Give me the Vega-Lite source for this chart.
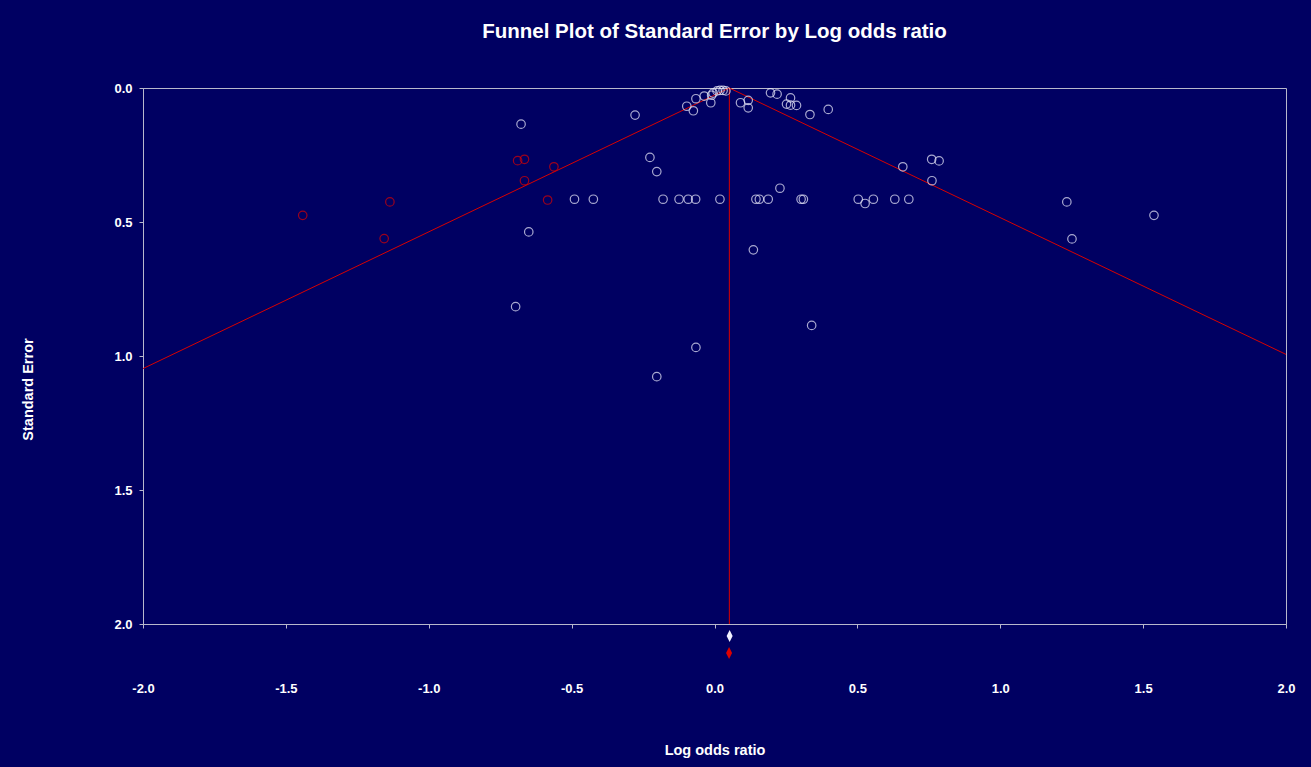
{
  "$schema": "https://vega.github.io/schema/vega-lite/v6.json",
  "autosize": "none",
  "width": 1143,
  "height": 536,
  "padding": {"left": 143, "top": 88, "right": 25, "bottom": 143},
  "background": "#000062",
  "view": {"stroke": "#b8b8cc", "strokeWidth": 1},
  "title": {
    "text": "Funnel Plot of Standard Error by Log odds ratio",
    "color": "#ffffff",
    "font": "Liberation Sans",
    "fontSize": 20.5,
    "fontWeight": "bold",
    "anchor": "middle",
    "offset": 40
  },
  "config": {
    "axis": {
      "grid": false,
      "domainColor": "#b8b8cc",
      "tickColor": "#b8b8cc",
      "tickSize": 4,
      "labelColor": "#ffffff",
      "labelFont": "Liberation Sans",
      "labelFontSize": 13,
      "labelFontWeight": "bold",
      "titleColor": "#ffffff",
      "titleFont": "Liberation Sans",
      "titleFontSize": 14.5,
      "titleFontWeight": "bold"
    }
  },
  "datasets": {
    "funnel": [
      {"line": "left", "ord": 0, "x": 0.052, "se": 0},
      {"line": "left", "ord": 1, "x": -2.0, "se": 1.047},
      {"line": "right", "ord": 0, "x": 0.052, "se": 0},
      {"line": "right", "ord": 1, "x": 2.0, "se": 0.994},
      {"line": "mid", "ord": 0, "x": 0.052, "se": 0},
      {"line": "mid", "ord": 1, "x": 0.052, "se": 2.0}
    ],
    "studies": [
      {"type": "observed", "x": -0.677, "se": 0.135},
      {"type": "observed", "x": -0.278, "se": 0.101},
      {"type": "observed", "x": -0.097, "se": 0.068},
      {"type": "observed", "x": -0.074, "se": 0.085},
      {"type": "observed", "x": -0.065, "se": 0.040},
      {"type": "observed", "x": -0.036, "se": 0.030},
      {"type": "observed", "x": -0.013, "se": 0.055},
      {"type": "observed", "x": -0.010, "se": 0.027},
      {"type": "observed", "x": -0.005, "se": 0.019},
      {"type": "observed", "x": 0.009, "se": 0.011},
      {"type": "observed", "x": 0.019, "se": 0.009},
      {"type": "observed", "x": 0.030, "se": 0.009},
      {"type": "observed", "x": 0.040, "se": 0.011},
      {"type": "observed", "x": 0.091, "se": 0.055},
      {"type": "observed", "x": 0.118, "se": 0.046},
      {"type": "observed", "x": 0.118, "se": 0.074},
      {"type": "observed", "x": 0.196, "se": 0.018},
      {"type": "observed", "x": 0.219, "se": 0.023},
      {"type": "observed", "x": 0.266, "se": 0.037},
      {"type": "observed", "x": 0.252, "se": 0.060},
      {"type": "observed", "x": 0.266, "se": 0.064},
      {"type": "observed", "x": 0.287, "se": 0.065},
      {"type": "observed", "x": 0.334, "se": 0.099},
      {"type": "observed", "x": 0.398, "se": 0.080},
      {"type": "observed", "x": -0.226, "se": 0.259},
      {"type": "observed", "x": -0.202, "se": 0.312},
      {"type": "observed", "x": -0.650, "se": 0.537},
      {"type": "observed", "x": -0.490, "se": 0.415},
      {"type": "observed", "x": -0.424, "se": 0.415},
      {"type": "observed", "x": -0.180, "se": 0.415},
      {"type": "observed", "x": -0.124, "se": 0.415},
      {"type": "observed", "x": -0.092, "se": 0.415},
      {"type": "observed", "x": -0.066, "se": 0.415},
      {"type": "observed", "x": 0.019, "se": 0.415},
      {"type": "observed", "x": 0.145, "se": 0.415},
      {"type": "observed", "x": 0.157, "se": 0.415},
      {"type": "observed", "x": 0.188, "se": 0.415},
      {"type": "observed", "x": 0.303, "se": 0.415},
      {"type": "observed", "x": 0.311, "se": 0.415},
      {"type": "observed", "x": 0.503, "se": 0.415},
      {"type": "observed", "x": 0.527, "se": 0.431},
      {"type": "observed", "x": 0.556, "se": 0.415},
      {"type": "observed", "x": 0.631, "se": 0.415},
      {"type": "observed", "x": 0.680, "se": 0.415},
      {"type": "observed", "x": 0.229, "se": 0.374},
      {"type": "observed", "x": 0.136, "se": 0.604},
      {"type": "observed", "x": 0.659, "se": 0.294},
      {"type": "observed", "x": 0.760, "se": 0.266},
      {"type": "observed", "x": 0.786, "se": 0.272},
      {"type": "observed", "x": 0.761, "se": 0.346},
      {"type": "observed", "x": 1.233, "se": 0.425},
      {"type": "observed", "x": 1.251, "se": 0.563},
      {"type": "observed", "x": 1.538, "se": 0.475},
      {"type": "observed", "x": -0.696, "se": 0.816},
      {"type": "observed", "x": -0.065, "se": 0.968},
      {"type": "observed", "x": -0.202, "se": 1.077},
      {"type": "observed", "x": 0.340, "se": 0.886},
      {"type": "imputed", "x": -1.441, "se": 0.475},
      {"type": "imputed", "x": -1.136, "se": 0.425},
      {"type": "imputed", "x": -1.156, "se": 0.562},
      {"type": "imputed", "x": -0.689, "se": 0.271},
      {"type": "imputed", "x": -0.665, "se": 0.266},
      {"type": "imputed", "x": -0.665, "se": 0.346},
      {"type": "imputed", "x": -0.562, "se": 0.294},
      {"type": "imputed", "x": -0.584, "se": 0.418}
    ],
    "summary": [
      {"type": "observed", "x": 0.053, "se": 2.045},
      {"type": "imputed", "x": 0.051, "se": 2.108}
    ]
  },
  "encoding": {
    "x": {
      "field": "x",
      "type": "quantitative",
      "scale": {"domain": [-2, 2], "nice": false, "zero": false},
      "axis": {
        "title": "Log odds ratio",
        "values": [-2, -1.5, -1, -0.5, 0, 0.5, 1, 1.5, 2],
        "format": ".1f",
        "labelExpr": "replace(datum.label, '−', '-')",
        "labelPadding": 54,
        "titlePadding": 48,
        "labelFlush": false
      }
    },
    "y": {
      "field": "se",
      "type": "quantitative",
      "scale": {"domain": [0, 2], "reverse": true, "nice": false, "zero": false},
      "axis": {
        "title": "Standard Error",
        "values": [0, 0.5, 1, 1.5, 2],
        "format": ".1f",
        "labelPadding": 7,
        "labelFlush": false,
        "titleBaseline": "middle",
        "titleX": -115,
        "titleY": 301
      }
    }
  },
  "layer": [
    {
      "data": {"name": "funnel"},
      "mark": {"type": "line", "color": "#d80000", "strokeWidth": 1},
      "encoding": {
        "detail": {"field": "line"},
        "order": {"field": "ord"}
      }
    },
    {
      "data": {"name": "studies"},
      "mark": {"type": "point", "shape": "circle", "filled": false, "size": 72, "strokeWidth": 1.2},
      "encoding": {
        "color": {
          "field": "type",
          "type": "nominal",
          "scale": {"domain": ["observed", "imputed"], "range": ["#f0f0ff", "#dd0000"]},
          "legend": null
        }
      }
    },
    {
      "data": {"name": "summary"},
      "mark": {"type": "point", "shape": "M0,-1L0.5,0L0,1L-0.5,0Z", "filled": true, "size": 144, "opacity": 1},
      "encoding": {
        "color": {
          "field": "type",
          "type": "nominal",
          "scale": {"domain": ["observed", "imputed"], "range": ["#ffffff", "#ff0000"]},
          "legend": null
        }
      }
    }
  ]
}
